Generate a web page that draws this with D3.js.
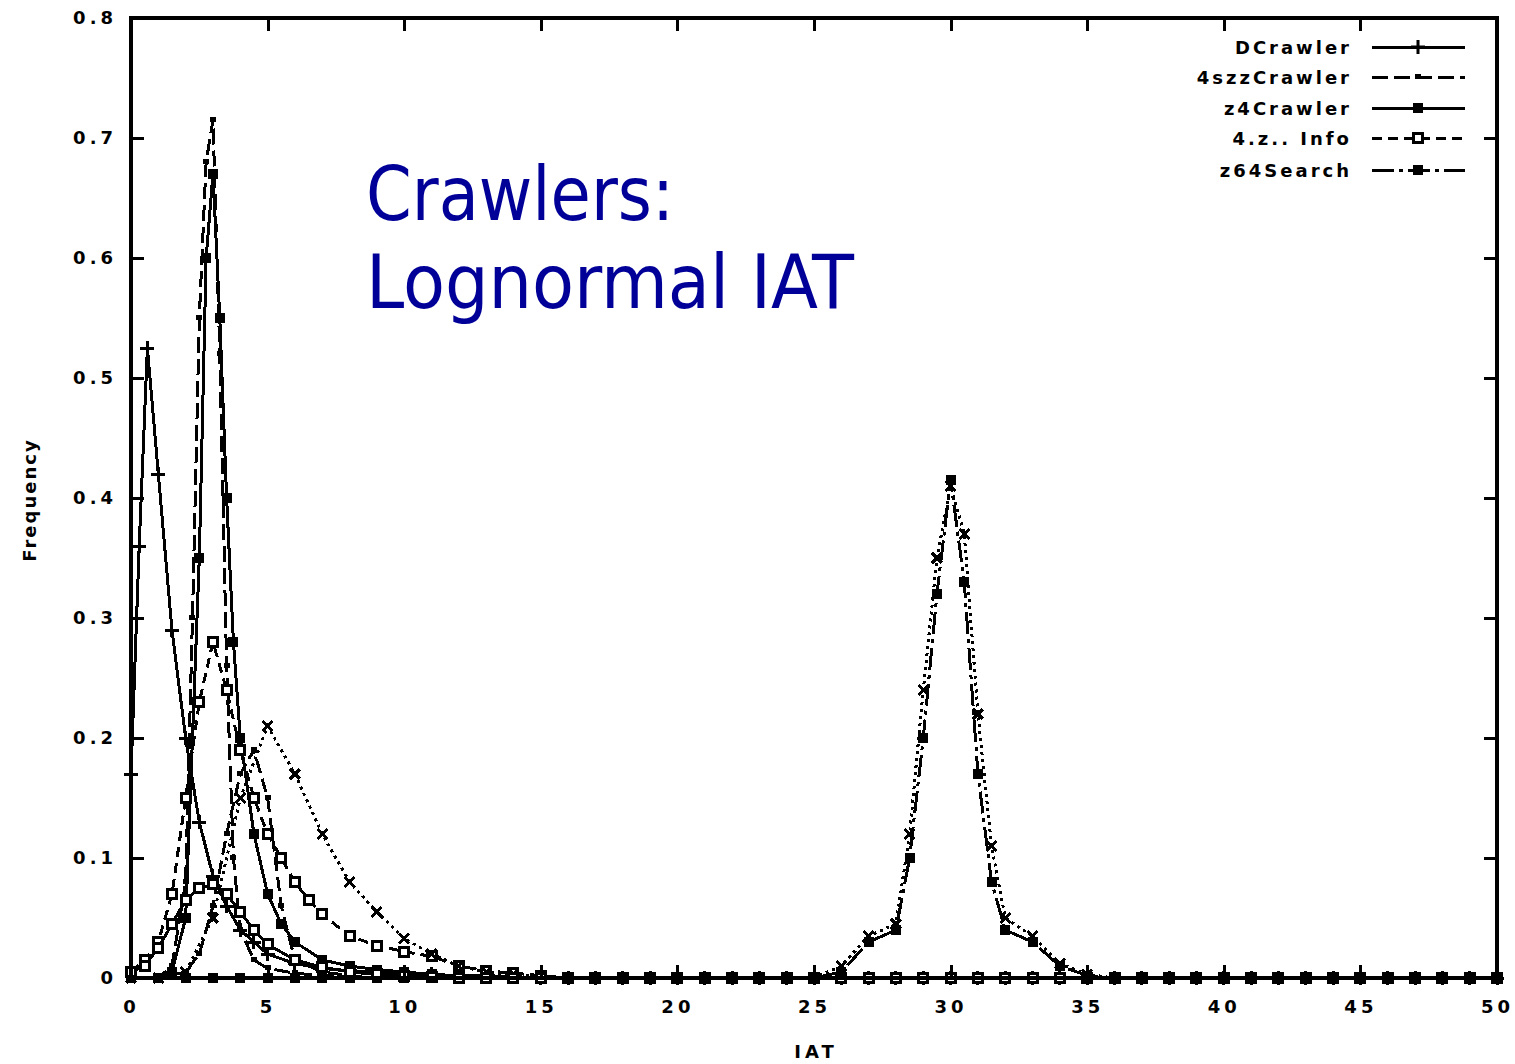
<!DOCTYPE html>
<html><head><meta charset="utf-8">
<script src="https://cdn.jsdelivr.net/npm/d3@7"></script>
<style>body{margin:0;background:#fff}</style>
</head><body>
<svg id="chart" width="1515" height="1064"></svg>
<script>
// ---------- data ----------
const xTicks = [0,5,10,15,20,25,30,35,40,45,50];
const yTicks = [0,0.1,0.2,0.3,0.4,0.5,0.6,0.7,0.8];
const legendNames = ["DCrawler","4szzCrawler","z4Crawler","4.z.. Info","z64Search"];

const dCrawlerX = [0,0.3,0.6,1,1.5,2,2.5,3,3.5,4,4.5,5,6,7,8,9,10,11,12,13,14,15,16,17,18,19,20,21,22,23,24,25,26,27,28,29,30,31,32,33,34,35,36,37,38,39,40,41,42,43,44,45,46,47,48,49,50];
const dCrawlerY = [0.17,0.36,0.525,0.42,0.29,0.2,0.13,0.085,0.06,0.04,0.03,0.02,0.012,0.008,0.006,0.005,0.004,0.003,0.002,0.002,0.001,0,0,0,0,0,0,0,0,0,0,0,0,0,0,0,0,0,0,0,0,0,0,0,0,0,0,0,0,0,0,0,0,0,0,0,0];

const szzCrawlerX = [0,1,1.5,2,2.25,2.5,2.75,3,3.25,3.5,3.75,4,4.5,5,6,7,8,9,10,11,12,13,14,15,16,17,18,19,20,21,22,23,24,25,26,27,28,29,30,31,32,33,34,35,36,37,38,39,40,41,42,43,44,45,46,47,48,49,50];
const szzCrawlerY = [0,0,0.01,0.08,0.3,0.55,0.68,0.715,0.52,0.26,0.1,0.04,0.015,0.008,0.004,0.002,0.001,0,0,0,0,0,0,0,0,0,0,0,0,0,0,0,0,0,0,0,0,0,0,0,0,0,0,0,0,0,0,0,0,0,0,0,0,0,0,0,0,0,0];

const z4CrawlerX = [0,1,1.5,2,2.5,2.75,3,3.25,3.5,3.75,4,4.5,5,5.5,6,7,8,9,10,11,12,13,14,15,16,17,18,19,20,21,22,23,24,25,26,27,28,29,30,31,32,33,34,35,36,37,38,39,40,41,42,43,44,45,46,47,48,49,50];
const z4CrawlerY = [0,0,0.005,0.05,0.35,0.6,0.67,0.55,0.4,0.28,0.2,0.12,0.07,0.045,0.03,0.015,0.01,0.007,0.005,0.003,0.002,0,0,0,0,0,0,0,0,0,0,0,0,0,0,0,0,0,0,0,0,0,0,0,0,0,0,0,0,0,0,0,0,0,0,0,0,0,0];

const infoX = [0,0.5,1,1.5,2,2.5,3,3.5,4,4.5,5,5.5,6,6.5,7,8,9,10,11,12,13,14,15,16,17,18,19,20,21,22,23,24,25,26,27,28,29,30,31,32,33,34,35,36,37,38,39,40,41,42,43,44,45,46,47,48,49,50];
const infoY = [0.005,0.015,0.03,0.07,0.15,0.23,0.28,0.24,0.19,0.15,0.12,0.1,0.08,0.065,0.053,0.035,0.027,0.022,0.018,0.01,0.006,0.004,0.002,0,0,0,0,0,0,0,0,0,0,0,0,0,0,0,0,0,0,0,0,0,0,0,0,0,0,0,0,0,0,0,0,0,0,0];

const z64SearchX = [0,1,2,3,4,5,6,7,8,9,10,11,12,13,14,15,16,17,18,19,20,21,22,23,24,25,26,27,28,28.5,29,29.5,30,30.5,31,31.5,32,33,34,35,36,37,38,39,40,41,42,43,44,45,46,47,48,49,50];
const z64SearchY = [0,0,0,0,0,0,0,0,0,0,0,0,0,0,0,0,0,0,0,0,0,0,0,0,0,0,0.005,0.03,0.04,0.1,0.2,0.32,0.415,0.33,0.17,0.08,0.04,0.03,0.01,0.002,0,0,0,0,0,0,0,0,0,0,0,0,0,0,0];

// unlabelled curves visible in the plot
const extraAX = [0,1,2,3,4,5,6,7,8,9,10,11,12,13,14,15,16,17,18,19,20,21,22,23,24,25,26,27,28,28.5,29,29.5,30,30.5,31,31.5,32,33,34,35,36,37,38,39,40,41,42,43,44,45,46,47,48,49,50];
const extraAY = [0,0,0.005,0.05,0.15,0.21,0.17,0.12,0.08,0.055,0.033,0.02,0.01,0.005,0.003,0.001,0,0,0,0,0,0,0,0,0,0,0.01,0.035,0.045,0.12,0.24,0.35,0.41,0.37,0.22,0.11,0.05,0.035,0.012,0.003,0,0,0,0,0,0,0,0,0,0,0,0,0,0,0];

const extraBX = [0,1,2,2.5,3,3.5,4,4.5,5,5.5,6,7,8,9,10,11,12,13,14,15,16,17,18,19,20];
const extraBY = [0,0,0.005,0.02,0.06,0.12,0.17,0.19,0.15,0.06,0.015,0.005,0.002,0,0,0,0,0,0,0,0,0,0,0,0];

const extraCX = [0,0.5,1,1.5,2,2.5,3,3.5,4,4.5,5,6,7,8,9,10,11,12,13,14,15];
const extraCY = [0.005,0.01,0.025,0.045,0.065,0.075,0.078,0.07,0.055,0.04,0.028,0.015,0.009,0.005,0.003,0.002,0.001,0,0,0,0];

// ---------- layout ----------
const svg = d3.select("#chart");
const L = 131, R = 1497, T = 18, B = 978;
const x = d3.scaleLinear().domain([0,50]).range([L,R]);
const y = d3.scaleLinear().domain([0,0.8]).range([B,T]);

const tickFont = "'DejaVu Sans', sans-serif";

const series = [
  {xs:dCrawlerX, ys:dCrawlerY, dash:null, marker:"plus", name:legendNames[0]},
  {xs:szzCrawlerX, ys:szzCrawlerY, dash:"16,6", marker:"tick", name:legendNames[1]},
  {xs:z4CrawlerX, ys:z4CrawlerY, dash:null, marker:"fsq", name:legendNames[2]},
  {xs:infoX, ys:infoY, dash:"10,6", marker:"osq", name:legendNames[3]},
  {xs:z64SearchX, ys:z64SearchY, dash:"22,5,4,5", marker:"fsq", name:legendNames[4]},
  {xs:extraAX, ys:extraAY, dash:"3,4", marker:"x", name:null},
  {xs:extraBX, ys:extraBY, dash:"14,6", marker:"tick", name:null},
  {xs:extraCX, ys:extraCY, dash:null, marker:"osq", name:null}
];

const gPlot = svg.append("g");
const line = d3.line().x(d=>x(d[0])).y(d=>y(d[1]));

function drawMarker(g, type, cx, cy){
  if(type==="plus"){
    g.append("path").attr("d",`M${cx-7},${cy}H${cx+7}M${cx},${cy-7}V${cy+7}`).attr("stroke","#000").attr("stroke-width",3).attr("fill","none");
  } else if(type==="x"){
    g.append("path").attr("d",`M${cx-5},${cy-5}L${cx+5},${cy+5}M${cx-5},${cy+5}L${cx+5},${cy-5}`).attr("stroke","#000").attr("stroke-width",3).attr("fill","none");
  } else if(type==="fsq"){
    g.append("rect").attr("x",cx-5).attr("y",cy-5).attr("width",10).attr("height",10).attr("fill","#000");
  } else if(type==="osq"){
    g.append("rect").attr("x",cx-4.5).attr("y",cy-4.5).attr("width",9).attr("height",9).attr("fill","#fff").attr("stroke","#000").attr("stroke-width",3);
  } else if(type==="tick"){
    g.append("rect").attr("x",cx-3).attr("y",cy-3).attr("width",6).attr("height",5).attr("fill","#000");
  }
}

series.forEach(s=>{
  const pts = s.xs.map((v,i)=>[v,s.ys[i]]);
  gPlot.append("path").datum(pts).attr("d",line)
    .attr("fill","none").attr("stroke","#000").attr("stroke-width",3)
    .attr("stroke-dasharray",s.dash).attr("shape-rendering","crispEdges");
  const gm = gPlot.append("g").attr("shape-rendering","crispEdges");
  pts.forEach(p=>drawMarker(gm, s.marker, x(p[0]), y(p[1])));
});

// ---------- axes ----------
function styleAxis(g){
  g.selectAll(".domain").remove();
  g.selectAll(".tick line").attr("stroke","#000").attr("stroke-width",3).attr("shape-rendering","crispEdges");
  g.selectAll(".tick text").attr("font-family",tickFont).attr("font-weight","bold")
    .attr("font-size",18).attr("letter-spacing","4px").attr("fill","#000");
}
const fmtY = d => d===0 ? "0" : d3.format(".1f")(d);
svg.append("g").attr("transform",`translate(${L},0)`)
  .call(d3.axisLeft(y).tickValues(yTicks).tickFormat(fmtY).tickSizeInner(-13).tickSizeOuter(0).tickPadding(14))
  .call(styleAxis);
svg.append("g").attr("transform",`translate(${R},0)`)
  .call(d3.axisRight(y).tickValues(yTicks).tickFormat("").tickSizeInner(-13).tickSizeOuter(0))
  .call(styleAxis);
svg.append("g").attr("transform",`translate(0,${B})`)
  .call(d3.axisBottom(x).tickValues(xTicks).tickFormat(d3.format("d")).tickSizeInner(-13).tickSizeOuter(0).tickPadding(22))
  .call(styleAxis);
svg.append("g").attr("transform",`translate(0,${T})`)
  .call(d3.axisTop(x).tickValues(xTicks).tickFormat("").tickSizeInner(-13).tickSizeOuter(0))
  .call(styleAxis);

svg.append("rect").attr("x",L).attr("y",T).attr("width",R-L).attr("height",B-T)
  .attr("fill","none").attr("stroke","#000").attr("stroke-width",3.5).attr("shape-rendering","crispEdges");

// axis titles
svg.append("text").attr("x",816).attr("y",1058).attr("text-anchor","middle")
  .attr("font-family",tickFont).attr("font-weight","bold").attr("font-size",18).attr("letter-spacing","4px")
  .text("IAT");
svg.append("text").attr("transform","translate(36,500) rotate(-90)").attr("text-anchor","middle")
  .attr("font-family",tickFont).attr("font-weight","bold").attr("font-size",18).attr("letter-spacing","2px")
  .text("Frequency");

// ---------- legend ----------
const legendRows = [47,77,108,138,170];
series.slice(0,5).forEach((s,i)=>{
  const ly = legendRows[i];
  svg.append("text").attr("x",1352).attr("y",ly+7).attr("text-anchor","end")
    .attr("font-family",tickFont).attr("font-weight","bold").attr("font-size",18).attr("letter-spacing","3px")
    .text(s.name);
  svg.append("line").attr("x1",1372).attr("x2",1465).attr("y1",ly).attr("y2",ly)
    .attr("stroke","#000").attr("stroke-width",3).attr("stroke-dasharray",s.dash).attr("shape-rendering","crispEdges");
  drawMarker(svg, s.marker, 1418, ly);
});

// ---------- title ----------
const title = svg.append("text").attr("font-family","'DejaVu Sans Condensed','DejaVu Sans',sans-serif")
  .attr("font-size",74).attr("fill","#000099");
title.append("tspan").attr("x",366).attr("y",220).attr("textLength",308).attr("lengthAdjust","spacingAndGlyphs").text("Crawlers:");
title.append("tspan").attr("x",366).attr("y",308).attr("textLength",488).attr("lengthAdjust","spacingAndGlyphs").text("Lognormal IAT");
</script>
</body></html>
